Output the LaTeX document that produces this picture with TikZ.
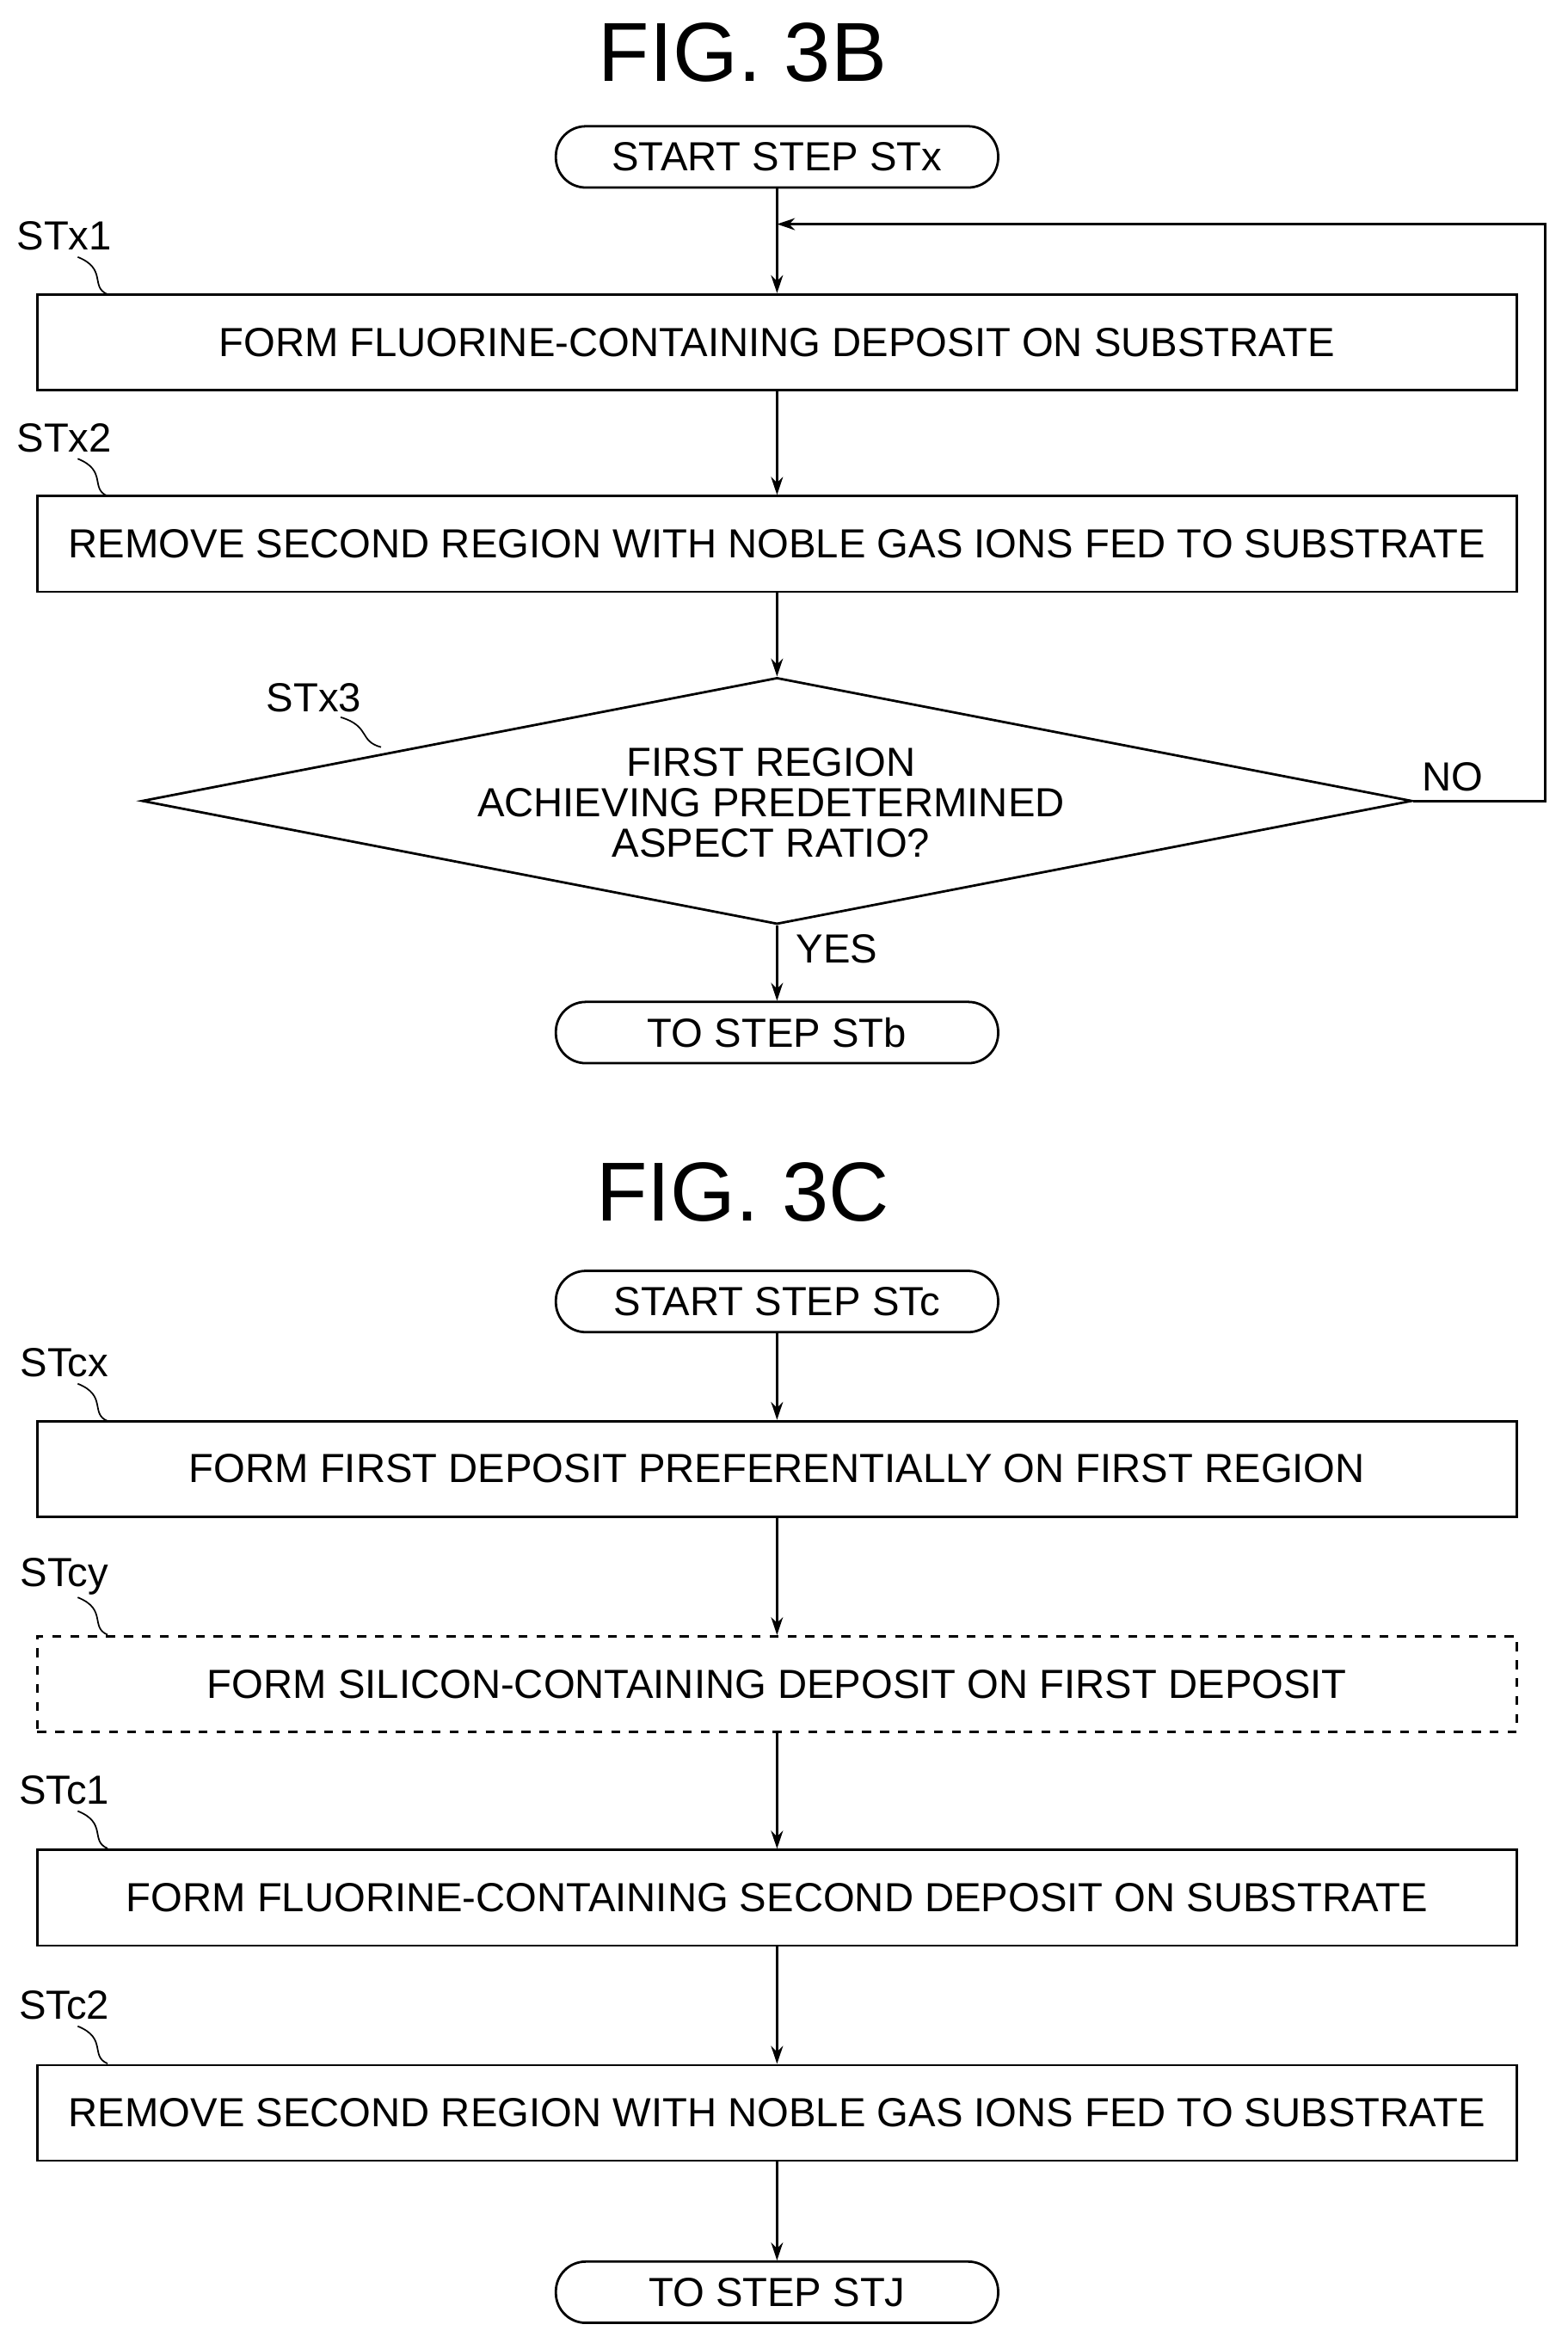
\documentclass[tikz,border=0pt]{standalone}
\usepackage{fontspec}
\setmainfont{Liberation Sans}
\usetikzlibrary{shapes.geometric,arrows.meta}
\begin{document}
\begin{tikzpicture}[x=0.5pt,y=-0.5pt,
  every node/.style={font=\fontsize{13.6}{15}\selectfont},
  box/.style={draw,line width=0.8pt,minimum width=495pt,minimum height=32pt,inner sep=0pt},
  pill/.style={draw,line width=0.8pt,rounded corners=10pt,minimum width=148pt,minimum height=20.5pt,inner sep=0pt},
  arr/.style={line width=0.8pt,-{Stealth[length=6pt,width=4pt]}},
  ln/.style={line width=0.8pt},
  sq/.style={line width=0.5pt},
  title/.style={font=\fontsize{28}{30}\selectfont}]
\useasboundingbox (0,0) rectangle (1049,1568);
\node[title] (t1) at (497,35) {FIG. 3B};
\node[pill] (s) at (520,105) {START STEP STx};
\node[box] (b1) at (520,229) {FORM FLUORINE-CONTAINING DEPOSIT ON SUBSTRATE};
\node[box] (b2) at (520,364) {REMOVE SECOND REGION WITH NOBLE GAS IONS FED TO SUBSTRATE};
\node[diamond,draw,line width=0.8pt,aspect=5.15,minimum width=425pt,minimum height=82.5pt,inner sep=0pt,align=center] (d) at (520,536) {};
\node[align=center,font=\fontsize{13.6}{13.5}\selectfont] (dt) at (516,537) {FIRST REGION\\ACHIEVING PREDETERMINED\\ASPECT RATIO?};
\node[pill] (e) at (520,691) {TO STEP STb};
\coordinate (m) at (520,150);
\draw[arr] (s) -- (b1);
\draw[arr] (b1) -- (b2);
\draw[arr] (b2) -- (d.north);
\draw[arr] (d.south) -- (e);
\draw[arr] (d.east) -- (1034,536) -- (1034,150) -- (m);
\node (no) at (972,520) {NO};
\node (yes) at (560,635) {YES};
\node (l1) at (43,158) {STx1};
\node (l2) at (43,293) {STx2};
\node (l3) at (210,467) {STx3};
\draw[sq] (52,172) .. controls (72,180) and (60,192) .. (72,197);
\draw[sq] (52,307) .. controls (72,315) and (60,327) .. (72,332);
\draw[sq] (228,480) .. controls (248,486) and (240,496) .. (255,500);

\node[title] (t2) at (497,798) {FIG. 3C};
\node[pill] (s2) at (520,871) {START STEP STc};
\node[box] (c1) at (520,983) {FORM FIRST DEPOSIT PREFERENTIALLY ON FIRST REGION};
\node[box,dashed] (c2) at (520,1127) {FORM SILICON-CONTAINING DEPOSIT ON FIRST DEPOSIT};
\node[box] (c3) at (520,1270) {FORM FLUORINE-CONTAINING SECOND DEPOSIT ON SUBSTRATE};
\node[box] (c4) at (520,1414) {REMOVE SECOND REGION WITH NOBLE GAS IONS FED TO SUBSTRATE};
\node[pill] (e2) at (520,1534) {TO STEP STJ};
\draw[arr] (s2) -- (c1);
\draw[arr] (c1) -- (c2);
\draw[arr] (c2) -- (c3);
\draw[arr] (c3) -- (c4);
\draw[arr] (c4) -- (e2);
\node (k1) at (43,912) {STcx};
\node (k2) at (43,1055) {STcy};
\node (k3) at (43,1198) {STc1};
\node (k4) at (43,1342) {STc2};
\foreach \y in {926,1069,1212,1356}{
  \draw[sq] (52,\y) .. controls (72,\y+8) and (60,\y+20) .. (72,\y+25);}
\end{tikzpicture}
\end{document}
